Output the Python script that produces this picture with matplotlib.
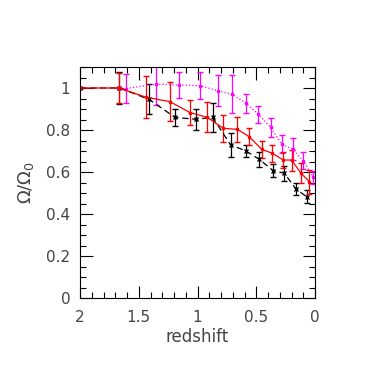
import numpy as np
import matplotlib.pyplot as plt
from matplotlib.ticker import MultipleLocator

plt.rcParams['font.family'] = ['DejaVu Sans']
plt.rcParams['mathtext.fontset'] = 'dejavusans'

# red (solid)
z_red = [2.0, 1.665, 1.438, 1.234, 1.064, 0.917, 0.78, 0.661, 0.559, 0.454, 0.363, 0.27, 0.199, 0.119, 0.048]
om_red = [1.0, 1.0, 0.956, 0.935, 0.883, 0.86, 0.808, 0.803, 0.768, 0.708, 0.689, 0.657, 0.657, 0.594, 0.554]
err_red = [0.0, 0.07, 0.10, 0.093, 0.058, 0.071, 0.063, 0.06, 0.04, 0.04, 0.04, 0.04, 0.05, 0.048, 0.057]

# black (dashed)
z_blk = [2.0, 1.665, 1.413, 1.191, 1.016, 0.871, 0.718, 0.587, 0.474, 0.355, 0.261, 0.162, 0.071]
om_blk = [1.0, 1.0, 0.946, 0.86, 0.851, 0.86, 0.729, 0.70, 0.66, 0.606, 0.594, 0.519, 0.482]
err_blk = [0.0, 0.078, 0.071, 0.04, 0.05, 0.068, 0.056, 0.028, 0.034, 0.03, 0.036, 0.028, 0.03]

# magenta (dotted)
z_mag = [2.0, 1.665, 1.61, 1.353, 1.155, 0.979, 0.828, 0.704, 0.587, 0.482, 0.377, 0.284, 0.19, 0.1, 0.014]
om_mag = [1.0, 1.0, 0.997, 1.019, 1.014, 1.011, 0.987, 0.97, 0.927, 0.875, 0.812, 0.733, 0.708, 0.654, 0.575]
err_mag = [0.0, 0.0, 0.07, 0.10, 0.06, 0.063, 0.075, 0.09, 0.045, 0.041, 0.044, 0.044, 0.052, 0.04, 0.032]

fig = plt.figure(figsize=(3.82, 3.82), dpi=100)
ax = fig.add_axes([80/382, 84/382, 235/382, 231/382])

ax.errorbar(z_mag, om_mag, yerr=err_mag, color='#ff00ff', ls=':', lw=0.9,
            marker='s', ms=2, capsize=2, elinewidth=0.9)
ax.errorbar(z_blk, om_blk, yerr=err_blk, color='black', ls=(0, (5, 3)), lw=0.9,
            marker='x', ms=2.5, capsize=2, elinewidth=0.9)
ax.errorbar(z_red, om_red, yerr=err_red, color='#ff0000', ls='-', lw=0.9,
            marker='s', ms=2, capsize=2, elinewidth=0.9)

ax.set_xlim(2, 0)
ax.set_ylim(0, 1.1)
ax.xaxis.set_minor_locator(MultipleLocator(0.1))
ax.yaxis.set_minor_locator(MultipleLocator(0.05))
ax.set_xticks([2, 1.5, 1, 0.5, 0])
ax.set_xticklabels(['2', '1.5', '1', '0.5', '0'])
ax.set_yticks([0, 0.2, 0.4, 0.6, 0.8, 1.0])
ax.set_yticklabels(['0', '0.2', '0.4', '0.6', '0.8', '1'])
ax.tick_params(which='both', direction='in', top=True, right=True,
               labelsize=11, width=0.8, labelcolor='#444444')
ax.tick_params(which='major', length=9)
ax.tick_params(axis='x', which='major', pad=9)
ax.tick_params(axis='y', which='major', pad=7)
ax.tick_params(which='minor', length=4.5)
for s in ax.spines.values():
    s.set_linewidth(0.8)

ax.set_xlabel('redshift', fontsize=12, labelpad=2, color='#444444')
ax.set_ylabel(r'$\mathrm{\Omega/\Omega_0}$', fontsize=13, labelpad=7, color='#444444')

fig.savefig('out.png', dpi=100)
